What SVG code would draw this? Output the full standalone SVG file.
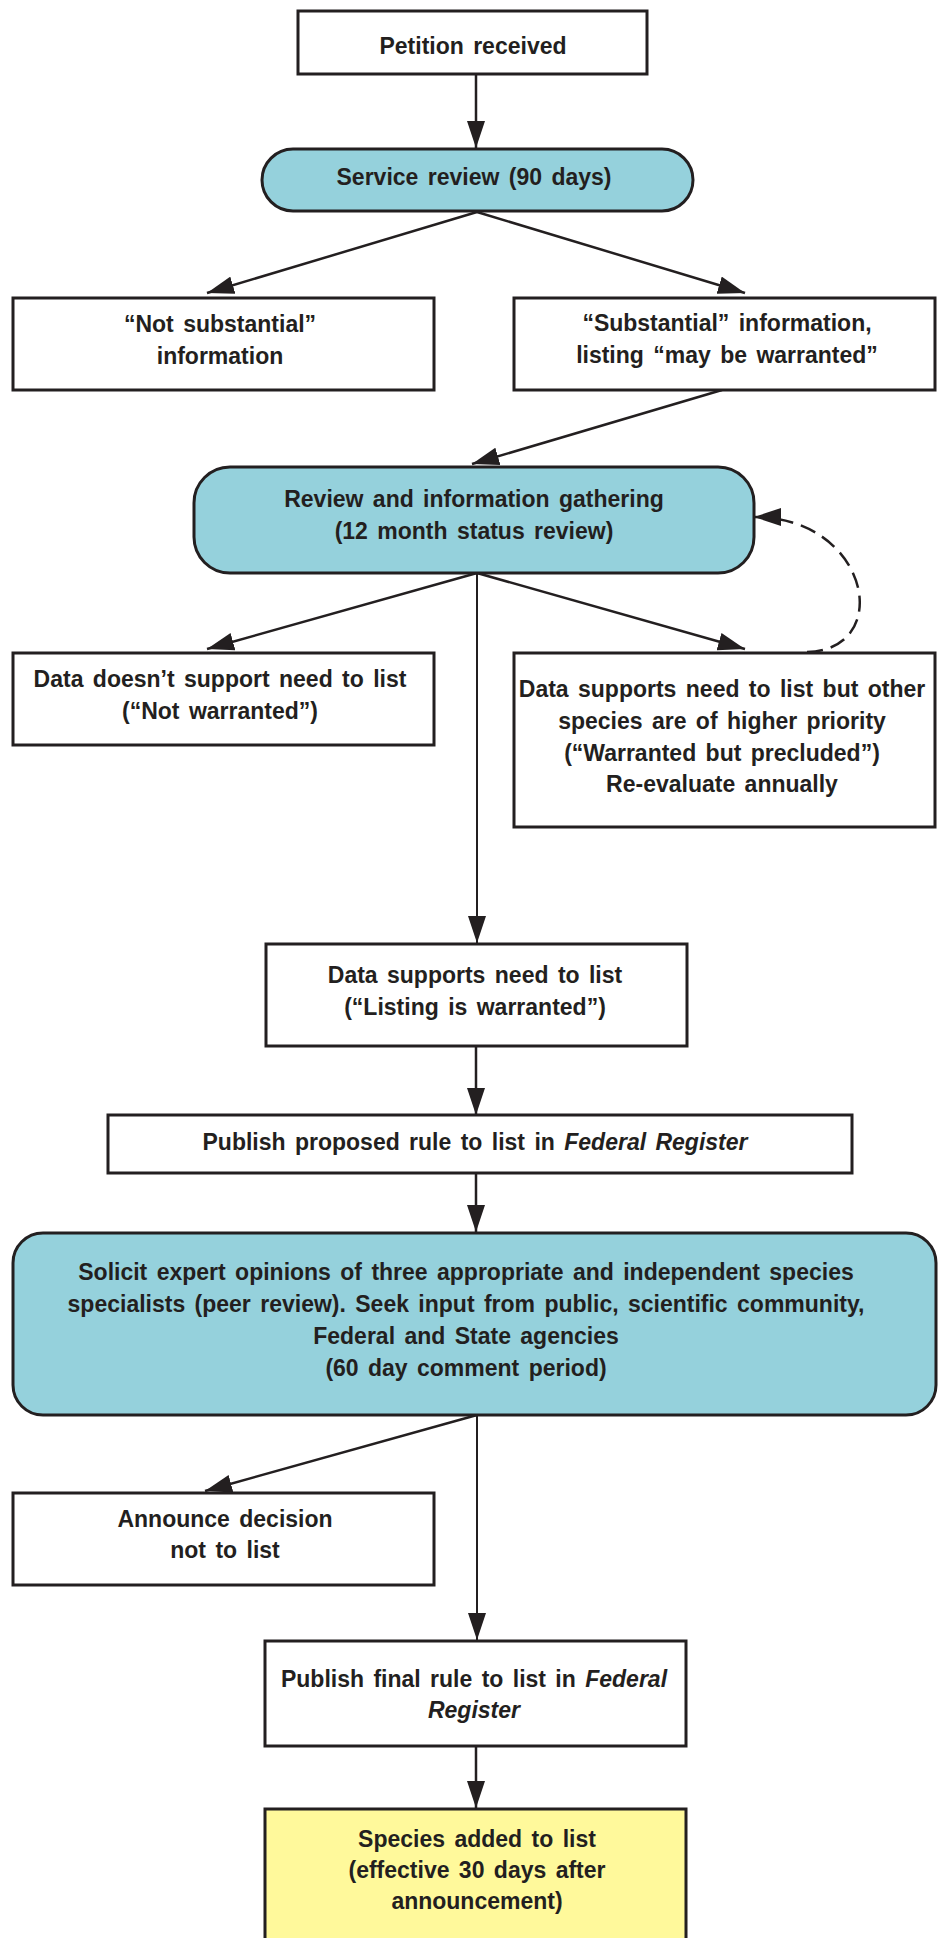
<svg xmlns="http://www.w3.org/2000/svg" width="938" height="1938" viewBox="0 0 938 1938">
<style>
.box{fill:#ffffff;stroke:#231f20;stroke-width:3}
.blue{fill:#95d1dc;stroke:#231f20;stroke-width:3}
.yellow{fill:#fff99b;stroke:#231f20;stroke-width:3}
text{font-family:"Liberation Sans",Arial,sans-serif;font-weight:bold;font-size:23px;fill:#231f20;text-anchor:middle;word-spacing:3px}
.it{font-style:italic}
.conn{stroke:#231f20;stroke-width:2.5;fill:none}
.thin{stroke:#231f20;stroke-width:2;fill:none}
.dash{stroke:#231f20;stroke-width:2.5;fill:none;stroke-dasharray:16 8}
</style>
<defs>
<marker id="ah" viewBox="0 0 27 18" refX="27" refY="9" markerWidth="27" markerHeight="18" markerUnits="userSpaceOnUse" orient="auto">
<path d="M0,0 L27,9 L0,18 Z" fill="#231f20"/>
</marker>
</defs>
<rect x="0" y="0" width="938" height="1938" fill="#ffffff"/>
<g id="connectors">
<line class="conn" x1="476" y1="74" x2="476" y2="148" marker-end="url(#ah)"/>
<line class="conn" x1="477" y1="212" x2="207" y2="293" marker-end="url(#ah)"/>
<line class="conn" x1="477" y1="212" x2="745" y2="293" marker-end="url(#ah)"/>
<line class="conn" x1="722" y1="390" x2="472" y2="464" marker-end="url(#ah)"/>
<line class="conn" x1="477" y1="573" x2="207" y2="649" marker-end="url(#ah)"/>
<line class="conn" x1="477" y1="573" x2="745" y2="649" marker-end="url(#ah)"/>
<line class="thin" x1="477" y1="573" x2="477" y2="943" marker-end="url(#ah)"/>
<path class="dash" d="M807,652 C895,650 870,517 754,517" marker-end="url(#ah)"/>
<line class="conn" x1="476" y1="1046" x2="476" y2="1115" marker-end="url(#ah)"/>
<line class="conn" x1="476" y1="1173" x2="476" y2="1232" marker-end="url(#ah)"/>
<line class="conn" x1="477" y1="1415" x2="205" y2="1491" marker-end="url(#ah)"/>
<line class="thin" x1="477" y1="1415" x2="477" y2="1640" marker-end="url(#ah)"/>
<line class="conn" x1="476" y1="1746" x2="476" y2="1808" marker-end="url(#ah)"/>
</g>
<g id="petition">
<rect class="box" x="298" y="11" width="349" height="63"/>
<text x="473" y="54">Petition received</text>
</g>
<g id="service-review">
<rect class="blue" x="262" y="149" width="431" height="62" rx="31"/>
<text x="474" y="185">Service review (90 days)</text>
</g>
<g id="not-substantial">
<rect class="box" x="13" y="298" width="421" height="92"/>
<text x="220" y="332">“Not substantial”</text>
<text x="220" y="364">information</text>
</g>
<g id="substantial">
<rect class="box" x="514" y="298" width="421" height="92"/>
<text x="727" y="331">“Substantial” information,</text>
<text x="727" y="363">listing “may be warranted”</text>
</g>
<g id="review">
<rect class="blue" x="194" y="467" width="560" height="106" rx="36"/>
<text x="474" y="507">Review and information gathering</text>
<text x="474" y="539">(12 month status review)</text>
</g>
<g id="not-warranted">
<rect class="box" x="13" y="653" width="421" height="92"/>
<text x="220" y="687">Data doesn’t support need to list</text>
<text x="220" y="719">(“Not warranted”)</text>
</g>
<g id="warranted-precluded">
<rect class="box" x="514" y="653" width="421" height="174"/>
<text x="722" y="697">Data supports need to list but other</text>
<text x="722" y="729">species are of higher priority</text>
<text x="722" y="761">(“Warranted but precluded”)</text>
<text x="722" y="792">Re-evaluate annually</text>
</g>
<g id="warranted">
<rect class="box" x="266" y="944" width="421" height="102"/>
<text x="475" y="983">Data supports need to list</text>
<text x="475" y="1015">(“Listing is warranted”)</text>
</g>
<g id="proposed-rule">
<rect class="box" x="108" y="1115" width="744" height="58"/>
<text x="475" y="1150">Publish proposed rule to list in <tspan class="it">Federal Register</tspan></text>
</g>
<g id="solicit">
<rect class="blue" x="13" y="1233" width="923" height="182" rx="30"/>
<text x="466" y="1280">Solicit expert opinions of three appropriate and independent species</text>
<text x="466" y="1312">specialists (peer review). Seek input from public, scientific community,</text>
<text x="466" y="1344">Federal and State agencies</text>
<text x="466" y="1376">(60 day comment period)</text>
</g>
<g id="announce">
<rect class="box" x="13" y="1493" width="421" height="92"/>
<text x="225" y="1527">Announce decision</text>
<text x="225" y="1558">not to list</text>
</g>
<g id="final-rule">
<rect class="box" x="265" y="1641" width="421" height="105"/>
<text x="474" y="1687">Publish final rule to list in <tspan class="it">Federal</tspan></text>
<text x="474" y="1718" class="it">Register</text>
</g>
<g id="species-added">
<rect class="yellow" x="265" y="1809" width="421" height="140"/>
<text x="477" y="1847">Species added to list</text>
<text x="477" y="1878">(effective 30 days after</text>
<text x="477" y="1909">announcement)</text>
</g>
</svg>
